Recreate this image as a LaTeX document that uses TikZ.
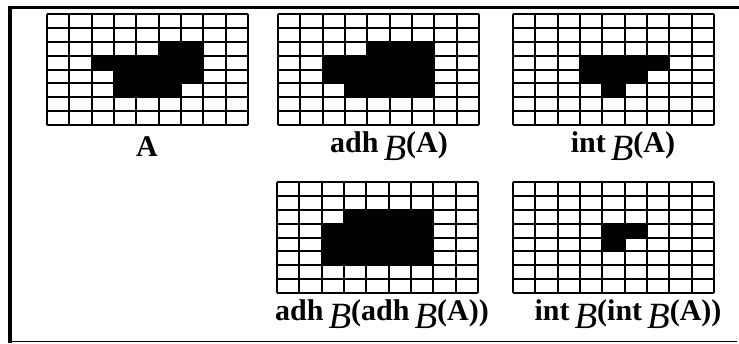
\documentclass[tikz,border=0pt]{standalone}
\usepackage{fontspec}
\setmainfont{Liberation Serif}
\tikzset{
  gridline/.style={line width=2pt},
  cellfill/.style={fill=black},
  framethick/.style={line width=3.5pt},
  framethin/.style={line width=1.6pt},
  caption/.style={anchor=base, inner sep=0pt, font=\fontsize{30}{32}\selectfont\bfseries}
}
\newcommand\BB{\raisebox{-0.28em}{\fontsize{37}{40}\selectfont\mdseries\itshape B}}
\newcommand\drawgrid[3]{%
  \begin{scope}[shift={(#1,#2)}]
    \foreach \r/\c in {#3} \fill[cellfill] (\c*22.33,\r*13.875) rectangle ++(22.33,13.875);
    \foreach \i in {0,...,9} \draw[gridline] (\i*22.33,0) -- (\i*22.33,111);
    \foreach \j in {0,...,8} \draw[gridline] (0,\j*13.875) -- (201,\j*13.875);
  \end{scope}}
\begin{document}
\begin{tikzpicture}[x=1pt,y=-1pt]
\useasboundingbox (0,0) rectangle (739,343);
% frame
\coordinate (tl) at (8,7.5);
\coordinate (tr) at (739,7.5);
\coordinate (ltop) at (10,6);
\coordinate (bl) at (10,343);
\coordinate (blin) at (10,341.5);
\coordinate (br) at (737,341.5);
\draw[framethick] (tl) -- (tr);
\draw[framethick,line width=4pt] (ltop) -- (bl);
\draw[framethin] (blin) -- (br);
% grids
\drawgrid{47}{14}{2/5,2/6,3/2,3/3,3/4,3/5,3/6,4/3,4/4,4/5,4/6,5/3,5/4,5/5}
\drawgrid{278}{14}{2/4,2/5,2/6,3/2,3/3,3/4,3/5,3/6,4/2,4/3,4/4,4/5,4/6,5/3,5/4,5/5,5/6}
\drawgrid{513}{14}{3/3,3/4,3/5,3/6,4/3,4/4,4/5,5/4}
\drawgrid{277}{182}{2/3,2/4,2/5,2/6,3/2,3/3,3/4,3/5,3/6,4/2,4/3,4/4,4/5,4/6,5/2,5/3,5/4,5/5,5/6}
\drawgrid{513}{182}{3/4,3/5,4/4}
% captions
\node[caption] (capA) at (147,156) {A};
\node[caption] (capadh) at (389,152) {adh\,\BB(A)};
\node[caption] (capint) at (623,152) {int\,\BB(A)};
\node[caption] (capadh2) at (382,320) {adh\,\BB(adh\,\BB(A))};
\node[caption] (capint2) at (628,320) {int\,\BB(int\,\BB(A))};
\end{tikzpicture}
\end{document}
